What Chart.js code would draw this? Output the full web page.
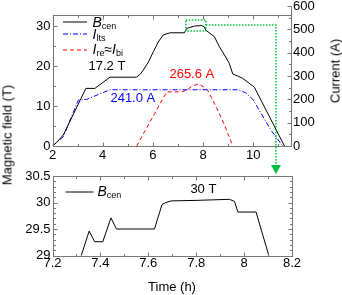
<!DOCTYPE html>
<html>
<head>
<meta charset="utf-8">
<script src="https://cdn.jsdelivr.net/npm/chart.js@4.4.1/dist/chart.umd.min.js"></script>
<style>
  body { margin: 0; background: #fff; }
  #wrap { position: relative; width: 342px; height: 295px; overflow: hidden; font-family: Arial, "Liberation Sans", sans-serif; font-size: 13px; color: #000; }
  canvas { position: absolute; left: 0; }
  .lbl { position: absolute; white-space: nowrap; transform: translate(-50%, -50%); line-height: 1; }
  .rot { transform: translate(-50%, -50%) rotate(-90deg); }
</style>
</head>
<body>
<div id="wrap">
  <canvas id="mainChart" width="342" height="178" style="top:0"></canvas>
  <canvas id="zoomChart" width="342" height="135" style="top:160px"></canvas>
  <div class="lbl rot" style="left:7px;top:135px">Magnetic field (T)</div>
  <div class="lbl rot" style="left:335px;top:71px">Current (A)</div>
  <div class="lbl" style="left:172px;top:286px">Time (h)</div>
</div>
<script>
const FONT = 'Arial, "Liberation Sans", sans-serif';
Chart.defaults.font.family = FONT;
Chart.defaults.font.size = 13;
Chart.defaults.color = '#000';

// B_cen over the whole run (T)
const runTime = [2.0, 2.15, 2.43, 3.33, 3.69, 4.29, 5.35, 5.5, 5.62, 5.82, 6.02, 6.21, 6.41, 6.68, 7.25, 7.35, 7.45, 7.66, 7.94, 8.05, 8.1, 8.45, 8.65, 8.85, 9.04, 9.18, 9.38, 9.58, 10.04, 11.24];
const bCen    = [0, 0.8, 2.75, 14.4, 14.4, 17.2, 17.2, 18, 19, 21, 23.6, 26, 27.75, 28.3, 28.3, 29.4, 29.6, 30.0, 30.1, 29.8, 29.0, 27.3, 24.8, 22.75, 20.7, 18, 17.5, 16.9, 14.7, 0];

// I_lts (A)
const ltsTime = [2.0, 2.43, 3.03, 3.36, 4.29, 9.38, 9.7, 9.98, 10.7, 11.17];
const iLts    = [0, 40, 197, 200, 241, 241, 228, 200, 68, 0];

// I_re = I_bi (A)
const reTime = [5.35, 6.55, 7.15, 7.35, 7.55, 7.8, 8.0, 8.18, 8.38, 8.58, 8.85, 9.18];
const iRe    = [0, 232, 232, 240, 256, 265.6, 255, 239, 197, 154, 90, 0];

// close-up of B_cen around the 30 T plateau
const zoomTime = [7.28, 7.32, 7.353, 7.376, 7.41, 7.444, 7.467, 7.626, 7.657, 7.673, 7.696, 7.8, 7.939, 7.96, 7.974, 8.05, 8.103, 8.13];
const zoomB    = [28.8, 29.0, 29.46, 29.26, 29.26, 29.71, 29.5, 29.5, 29.96, 30.0, 30.03, 30.04, 30.06, 30.02, 29.82, 29.82, 29.0, 28.85];

// ticks
const mainXTicks = [2, 4, 6, 8, 10];
const mainXMinor = [3, 5, 7, 9, 11];
const fieldTicks = [0, 10, 20, 30];
const fieldMinor = [5, 15, 25];
const currentTicks = [0, 100, 200, 300, 400, 500, 600];
const currentMinor = [50, 150, 250, 350, 450, 550];
const zoomXTicks = [7.2, 7.4, 7.6, 7.8, 8.0, 8.2];
const zoomXMinor = [7.3, 7.5, 7.7, 7.9, 8.1];
const zoomYTicks = [29, 29.5, 30, 30.5];
const zoomYMinor = [29.1, 29.2, 29.3, 29.4, 29.6, 29.7, 29.8, 29.9, 30.1, 30.2, 30.3, 30.4];

const pts = (xs, ys) => xs.map((x, i) => ({ x: x, y: ys[i] }));
const px = v => Math.round(v) + 0.5;
const fmt = v => String(+v.toFixed(2));
const setTicks = vals => s => { s.ticks = vals.map(v => ({ value: v })); };

const FRAME = '#777';
const GREEN = '#00c040';

function marks(ctx, scale, values, len, sides) {
    let a = scale.chart.chartArea;
    values.forEach(v => {
        let p = px(scale.getPixelForValue(v));
        sides.forEach(side => {
            ctx.beginPath();
            if (side === 'bottom') { ctx.moveTo(p, px(a.bottom)); ctx.lineTo(p, px(a.bottom) - len); }
            if (side === 'top') { ctx.moveTo(p, px(a.top)); ctx.lineTo(p, px(a.top) + len); }
            if (side === 'left') { ctx.moveTo(px(a.left), p); ctx.lineTo(px(a.left) + len, p); }
            if (side === 'right') { ctx.moveTo(px(a.right), p); ctx.lineTo(px(a.right) - len, p); }
            ctx.stroke();
        });
    });
}

// text with italic letters and subscripts: parts = [[text, 'i' | 'n' | 's'], ...]
function richText(ctx, x, y, parts) {
    parts.forEach(([s, k]) => {
        if (k === 's') ctx.font = '9px ' + FONT;
        else ctx.font = (k === 'i' ? 'italic ' : '') + '14px ' + FONT;
        ctx.fillText(s, x, y + (k === 's' ? 4 : 0));
        x += ctx.measureText(s).width;
    });
}

function legendLine(ctx, x0, x1, y, color, dash) {
    ctx.save();
    ctx.strokeStyle = color;
    ctx.lineWidth = 1;
    ctx.setLineDash(dash);
    ctx.beginPath();
    ctx.moveTo(x0, y);
    ctx.lineTo(x1, y);
    ctx.stroke();
    ctx.restore();
}

function note(ctx, text, x, y, color) {
    ctx.font = '13px ' + FONT;
    ctx.fillStyle = color;
    ctx.textAlign = 'center';
    ctx.fillText(text, x, y);
    ctx.textAlign = 'left';
}

const mainDecor = {
    id: 'mainDecor',
    afterDraw(chart) {
        const { ctx, chartArea: a, scales: { x, y, y1 } } = chart;
        ctx.save();
        ctx.strokeStyle = FRAME;
        ctx.lineWidth = 1;
        ctx.strokeRect(px(a.left), px(a.top), Math.round(a.right) - Math.round(a.left), Math.round(a.bottom) - Math.round(a.top));
        // right axis runs up to 600 A
        ctx.beginPath();
        ctx.moveTo(px(a.right), px(a.top));
        ctx.lineTo(px(a.right), px(y1.getPixelForValue(600)));
        ctx.stroke();
        marks(ctx, x, mainXTicks, 4, ['bottom', 'top']);
        marks(ctx, x, mainXMinor, 2.5, ['bottom', 'top']);
        marks(ctx, y, fieldTicks, 4, ['left']);
        marks(ctx, y, fieldMinor, 2.5, ['left']);
        marks(ctx, y1, currentTicks, 4, ['right']);
        marks(ctx, y1, currentMinor, 2.5, ['right']);

        // green zoom box and arrow
        ctx.strokeStyle = GREEN;
        ctx.fillStyle = GREEN;
        ctx.lineWidth = 1.5;
        ctx.setLineDash([1.5, 1.5]);
        let bx0 = x.getPixelForValue(7.31), bx1 = x.getPixelForValue(8.11);
        let by0 = y.getPixelForValue(31.5), by1 = y.getPixelForValue(28.75);
        ctx.strokeRect(bx0, by0, bx1 - bx0, by1 - by0);
        let ly = y.getPixelForValue(30.25), ax = x.getPixelForValue(10.9);
        let tip = a.bottom + 28;
        ctx.beginPath();
        ctx.moveTo(bx1, ly);
        ctx.lineTo(ax, ly);
        ctx.lineTo(ax, tip - 8);
        ctx.stroke();
        ctx.setLineDash([]);
        ctx.beginPath();
        ctx.moveTo(ax - 5, tip - 9);
        ctx.lineTo(ax + 5, tip - 9);
        ctx.lineTo(ax, tip);
        ctx.closePath();
        ctx.fill();

        // legend
        ctx.textBaseline = 'middle';
        ctx.fillStyle = '#000';
        legendLine(ctx, a.left + 10.5, a.left + 34.5, a.top + 7, '#000', []);
        legendLine(ctx, a.left + 10.5, a.left + 34.5, a.top + 19, '#0000ff', [5, 2, 1, 2]);
        legendLine(ctx, a.left + 10.5, a.left + 34.5, a.top + 35, '#ff0000', [4, 3]);
        richText(ctx, a.left + 40, a.top + 8, [['B', 'i'], ['cen', 's']]);
        richText(ctx, a.left + 40, a.top + 20, [['I', 'i'], ['lts', 's']]);
        richText(ctx, a.left + 40, a.top + 35, [['I', 'i'], ['re', 's'], ['\u2248', 'n'], ['I', 'i'], ['bi', 's']]);

        note(ctx, '17.2 T', x.getPixelForValue(4.17), y.getPixelForValue(20), '#000');
        note(ctx, '241.0 A', x.getPixelForValue(5.2), y1.getPixelForValue(205), '#0000ff');
        note(ctx, '265.6 A', x.getPixelForValue(7.55), y1.getPixelForValue(308), '#ff0000');
        ctx.restore();
    }
};

const zoomDecor = {
    id: 'zoomDecor',
    afterDraw(chart) {
        const { ctx, chartArea: a, scales: { x, y } } = chart;
        ctx.save();
        ctx.strokeStyle = FRAME;
        ctx.lineWidth = 1;
        ctx.strokeRect(px(a.left), px(a.top), Math.round(a.right) - Math.round(a.left), Math.round(a.bottom) - Math.round(a.top));
        marks(ctx, x, zoomXTicks, 4, ['bottom', 'top']);
        marks(ctx, x, zoomXMinor, 2.5, ['bottom', 'top']);
        marks(ctx, y, zoomYTicks, 4, ['left', 'right']);
        marks(ctx, y, zoomYMinor, 2.5, ['left', 'right']);

        ctx.textBaseline = 'middle';
        ctx.fillStyle = '#000';
        legendLine(ctx, a.left + 13, a.left + 41, a.top + 16, '#000', []);
        richText(ctx, a.left + 45, a.top + 16, [['B', 'i'], ['cen', 's']]);
        note(ctx, '30 T', x.getPixelForValue(7.83), y.getPixelForValue(30.24), '#000');
        ctx.restore();
    }
};

const axisBase = {
    grid: { display: false, drawTicks: false },
    border: { display: false }
};

new Chart(document.getElementById('mainChart'), {
    type: 'line',
    data: {
        datasets: [
            { label: 'Bcen', data: pts(runTime, bCen), yAxisID: 'y', borderColor: '#000', borderWidth: 1 },
            { label: 'Ilts', data: pts(ltsTime, iLts), yAxisID: 'y1', borderColor: '#0000ff', borderDash: [5, 2, 1, 2], borderWidth: 1 },
            { label: 'Ire=Ibi', data: pts(reTime, iRe), yAxisID: 'y1', borderColor: '#ff0000', borderDash: [4, 3], borderWidth: 1 }
        ]
    },
    options: {
        responsive: false,
        animation: false,
        devicePixelRatio: 1,
        layout: { padding: { top: 15, left: 0, right: 0, bottom: 0 } },
        elements: { point: { radius: 0 }, line: { tension: 0 } },
        plugins: { legend: { display: false }, tooltip: { enabled: false } },
        scales: {
            x: {
                ...axisBase, type: 'linear', min: 2, max: 11.5,
                ticks: { padding: 2, maxRotation: 0, callback: fmt },
                afterBuildTicks: setTicks(mainXTicks),
                afterFit: s => { s.height = 32; }
            },
            y: {
                ...axisBase, position: 'left', min: 0, max: 32.75,
                ticks: { padding: 2, callback: fmt },
                afterBuildTicks: setTicks(fieldTicks),
                afterFit: s => { s.width = 52.5; }
            },
            y1: {
                ...axisBase, position: 'right', min: 0, max: 561.4,
                ticks: { padding: 2, callback: fmt },
                afterBuildTicks: setTicks(currentTicks),
                afterFit: s => { s.width = 51; }
            }
        }
    },
    plugins: [mainDecor]
});

new Chart(document.getElementById('zoomChart'), {
    type: 'line',
    data: {
        datasets: [
            { label: 'Bcen', data: pts(zoomTime, zoomB), borderColor: '#000', borderWidth: 1 }
        ]
    },
    options: {
        responsive: false,
        animation: false,
        devicePixelRatio: 1,
        layout: { padding: { top: 16, left: 0, right: 50, bottom: 0 } },
        elements: { point: { radius: 0 }, line: { tension: 0 } },
        plugins: { legend: { display: false }, tooltip: { enabled: false } },
        scales: {
            x: {
                ...axisBase, type: 'linear', min: 7.2, max: 8.2,
                ticks: { padding: 0, maxRotation: 0, callback: fmt },
                afterBuildTicks: setTicks(zoomXTicks),
                afterFit: s => { s.height = 39.5; }
            },
            y: {
                ...axisBase, min: 29, max: 30.5,
                ticks: { padding: 2, callback: fmt },
                afterBuildTicks: setTicks(zoomYTicks),
                afterFit: s => { s.width = 52.5; }
            }
        }
    },
    plugins: [zoomDecor]
});
</script>
</body>
</html>
